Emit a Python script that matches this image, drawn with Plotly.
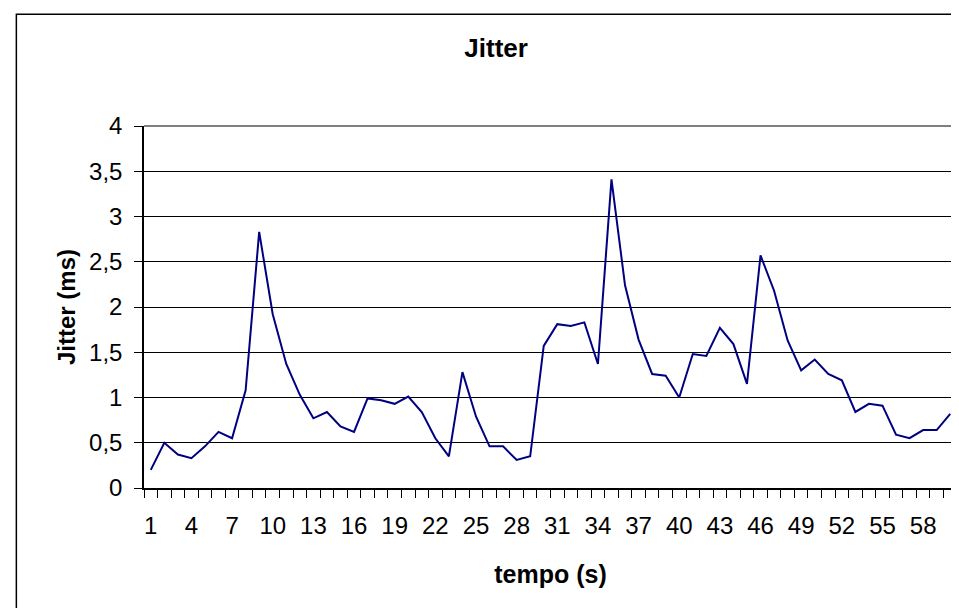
import plotly.graph_objects as go

tempo = list(range(1, 61))
jitter = [0.20, 0.50, 0.37, 0.33, 0.46, 0.62, 0.55, 1.08, 2.83, 1.92,
          1.37, 1.03, 0.77, 0.84, 0.68, 0.62, 0.99, 0.97, 0.93, 1.01,
          0.84, 0.55, 0.35, 1.28, 0.79, 0.46, 0.46, 0.31, 0.35, 1.57,
          1.81, 1.79, 1.83, 1.37, 3.41, 2.24, 1.64, 1.26, 1.24, 1.00,
          1.48, 1.46, 1.77, 1.59, 1.15, 2.57, 2.18, 1.63, 1.30, 1.42,
          1.26, 1.19, 0.84, 0.93, 0.91, 0.59, 0.55, 0.64, 0.64, 0.82]
x_tickvals = list(range(1, 61, 3))
x_ticktext = [str(v) for v in x_tickvals]
y_tickvals = [0, 0.5, 1, 1.5, 2, 2.5, 3, 3.5, 4]

FONT = "Arial, Liberation Sans, sans-serif"

fig = go.Figure()
fig.add_trace(go.Scatter(x=tempo, y=jitter, mode="lines",
                         line=dict(color="#000080", width=2),
                         showlegend=False, hoverinfo="x+y"))

fig.update_layout(
    width=959, height=608,
    margin=dict(l=136, r=10, t=118, b=128),
    paper_bgcolor="white", plot_bgcolor="white",
    separators=", ",
    font=dict(family=FONT, color="black", size=24),
    title=dict(text="<b>Jitter</b>", x=0.509, xanchor="center",
               y=0.934, yanchor="middle", font=dict(size=26, family=FONT)),
    xaxis=dict(range=[0.5, 60.5], tickvals=x_tickvals, ticktext=x_ticktext,
               ticks="", showgrid=False, zeroline=False,
               showline=True, linecolor="black", linewidth=1.5,
               tickfont=dict(size=24), ticklabelstandoff=15,
               minor=dict(ticks="outside", tick0=0.5, dtick=1, ticklen=8,
                          tickcolor="black", tickwidth=1, showgrid=False),
               title=dict(text="<b>tempo (s)</b>", font=dict(size=25), standoff=28)),
    yaxis=dict(range=[0, 4], tickvals=y_tickvals, tickformat=".1~f",
               ticks="outside", ticklen=8, tickcolor="black", tickwidth=1,
               showgrid=True, gridcolor="black", gridwidth=1,
               zeroline=False, showline=True, linecolor="black", linewidth=1.5,
               tickfont=dict(size=24), ticklabelstandoff=7,
               title=dict(text="<b>Jitter (ms)</b>", font=dict(size=24), standoff=7)),
)

# gray plot-area border on top and right
fig.add_shape(type="line", xref="paper", yref="paper", x0=0, x1=1, y0=1, y1=1,
              line=dict(color="#808080", width=2), layer="above")
fig.add_shape(type="line", xref="paper", yref="paper", x0=1, x1=1, y0=0, y1=1,
              line=dict(color="#808080", width=2), layer="above")
# outer chart frame
fig.add_shape(type="rect", xref="paper", yref="paper",
              x0=-0.157, x1=1.02, y0=-0.38, y1=1.309,
              line=dict(color="black", width=1.5), fillcolor="rgba(0,0,0,0)",
              layer="above")

fig.write_html("out.html")
